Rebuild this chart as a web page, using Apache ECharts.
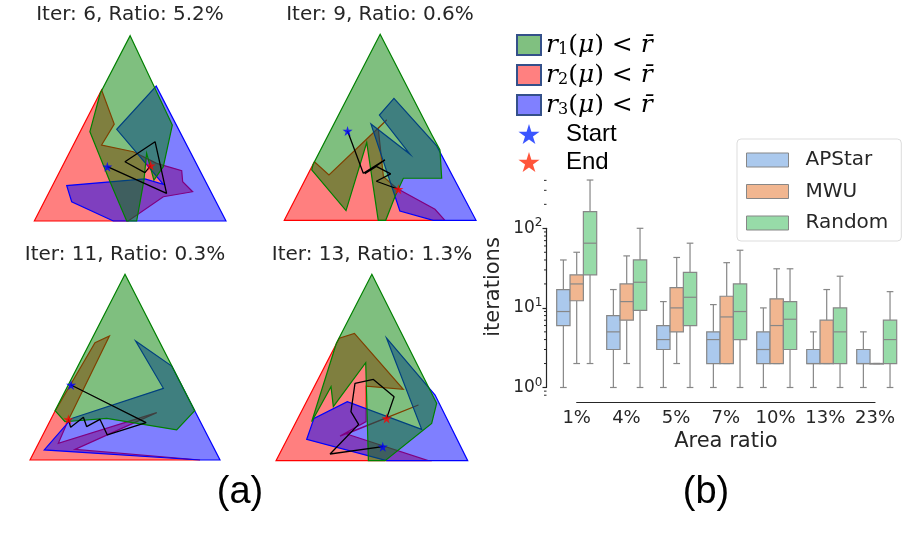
<!DOCTYPE html>
<html lang="en">
<head>
<meta charset="UTF-8"/>
<title>Feasible regions and iterations</title>
<style>
    html, body {
        margin: 0;
        padding: 0;
        width: 906px;
        height: 536px;
        background: #ffffff;
        overflow: hidden;
    }
    #chart {
        width: 906px;
        height: 536px;
    }
</style>
</head>
<body>
<div id="chart"></div>
<script src="https://cdn.jsdelivr.net/npm/echarts@6/dist/echarts.min.js"></script>
<script>
    const chart = echarts.init(document.getElementById('chart'));

    // ---- (a) simplex panels: triangle coords, base 0..1, apex at (0.5, 1)
    const panelTitles = ['Iter: 6, Ratio: 5.2%', 'Iter: 9, Ratio: 0.6%', 'Iter: 11, Ratio: 0.3%', 'Iter: 13, Ratio: 1.3%'];

    const r1Regions = [
        [[0.5, 1], [0.72, 0.518], [0.673, 0.293], [0.624, 0.221], [0.586, 0.365], [0.572, 0.221], [0.534, 0], [0.482, 0], [0.395, 0.212], [0.29, 0.482], [0.344, 0.689]],
        [[0.5, 1], [0.77, 0.459], [0.812, 0.378], [0.821, 0.226], [0.621, 0.226], [0.577, 0.127], [0.529, 0], [0.49, 0], [0.43, 0.418], [0.322, 0.052], [0.143, 0.271], [0.15, 0.3]],
        [[0.5, 1], [0.867, 0.266], [0.772, 0.162], [0.404, 0.224], [0.184, 0.206], [0.132, 0.266]],
        [[0.5, 1], [0.838, 0.308], [0.812, 0.2], [0.569, 0], [0.482, 0], [0.468, 0.526], [0.299, 0.29], [0.287, 0.397], [0.186, 0.209], [0.315, 0.63]]
    ];
    const r2Regions = [
        [[0, 0], [0.351, 0.707], [0.417, 0.523], [0.351, 0.41], [0.517, 0.374], [0.638, 0.311], [0.769, 0.272], [0.774, 0.212], [0.826, 0.158], [0.673, 0.131], [0.49, 0]],
        [[0, 0], [0.157, 0.315], [0.233, 0.244], [0.534, 0.539], [0.49, 0.495], [0.517, 0.235], [0.586, 0.172], [0.786, 0.059], [0.838, 0]],
        [[0, 0], [0.13, 0.26], [0.342, 0.632], [0.418, 0.668], [0.202, 0.215], [0.149, 0.09], [0.667, 0.255], [0.237, 0.057], [0.895, 0]],
        [[0, 0], [0.33, 0.657], [0.409, 0.683], [0.664, 0.383], [0.47, 0.4], [0.47, 0.21], [0.334, 0.132], [0.743, 0.299], [0.369, 0.143], [0.795, 0]]
    ];
    const r3Regions = [
        [[1, 0], [0.636, 0.728], [0.43, 0.495], [0.551, 0.347], [0.673, 0.198], [0.577, 0.227], [0.169, 0.191], [0.195, 0.104], [0.412, 0]],
        [[0.572, 0.656], [0.795, 0.4], [1, 0], [0.777, 0], [0.603, 0.05], [0.452, 0.518], [0.656, 0.355], [0.496, 0.566]],
        [[0.556, 0.641], [0.746, 0.506], [1, 0], [0.895, 0], [0.075, 0.054], [0.219, 0.224], [0.702, 0.386]],
        [[0.577, 0.657], [0.83, 0.352], [1, 0], [0.577, 0], [0.16, 0.114], [0.198, 0.227], [0.372, 0.317], [0.76, 0.168]]
    ];
    // iterate path, first point = Start, last = End
    const paths = [
        [[0.381, 0.293], [0.69, 0.149], [0.63, 0.428], [0.473, 0.32], [0.577, 0.261], [0.607, 0.299]],
        [[0.33, 0.48], [0.412, 0.253], [0.525, 0.325], [0.42, 0.25], [0.48, 0.29], [0.555, 0.25], [0.48, 0.21], [0.595, 0.167]],
        [[0.216, 0.404], [0.611, 0.201], [0.407, 0.135], [0.368, 0.219], [0.298, 0.18], [0.281, 0.23], [0.214, 0.176], [0.202, 0.219]],
        [[0.557, 0.075], [0.282, 0.036], [0.431, 0.195], [0.391, 0.263], [0.412, 0.415], [0.508, 0.436], [0.616, 0.343], [0.577, 0.227]]
    ];

    // ---- (b) box plot: [whisker low, q1, median, q3, whisker high]
    const ratioLabels = ['1%', '4%', '5%', '7%', '10%', '13%', '23%'];
    const apstarBoxes = [
        [1, 6, 9, 17, 40],
        [1, 3, 5, 8, 17],
        [1, 3, 4, 6, 12],
        [1, 2, 4, 5, 11],
        [1, 2, 3, 5, 10],
        [1, 2, 2, 3, 5],
        [1, 2, 2, 3, 5]
    ];
    const mwuBoxes = [
        [2, 12.3, 20, 26, 50],
        [2, 7, 12, 20, 45],
        [2, 5, 10, 18, 43],
        [2, 2, 7.7, 14, 37],
        [2, 2, 6, 13, 31],
        [2, 2, 2, 7, 17],
        [2, 2, 2, 2, 2]
    ];
    const randomBoxes = [
        [2, 26, 65, 162, 404],
        [1, 9.3, 21, 40, 100],
        [1, 6, 13.6, 28, 65],
        [1, 4, 9, 20, 53],
        [1, 3, 7.2, 12, 31],
        [1, 2, 5, 10, 25],
        [1, 2, 4, 7, 16]
    ];
    const minorTickVals = [0.8, 0.9, 2, 3, 4, 5, 6, 7, 8, 9, 20, 30, 40, 50, 60, 70, 80, 90, 200, 300, 400];

    // ---- layout
    const panelBoxes = [
        {left: 34.3, top: 35.7, width: 191.7, height: 185.3},
        {left: 284.3, top: 34.3, width: 191.7, height: 186},
        {left: 30, top: 274.3, width: 190, height: 185.7},
        {left: 276, top: 274.3, width: 191.7, height: 186.4}
    ];
    const titlePos = [[130, 15], [380, 15], [125, 255], [372, 255]];
    const BOX_GRID = {left: 551.7, top: 176, width: 350, height: 222};
    const LOG_MIN = -0.132, LOG_MAX = 2.657;
    const SPINE_X = 546.5;
    const TEXT = '#262626';
    const BOX_LINE = '#878787';
    const STAR = 'path://M50,0 L61,35 L98,35 L68,57 L79,91 L50,70 L21,91 L32,57 L2,35 L39,35 Z';

    function yOf(v) {
        return BOX_GRID.top + BOX_GRID.height * (LOG_MAX - Math.log10(v)) / (LOG_MAX - LOG_MIN);
    }

    const regionStyles = {
        r1: {fill: 'rgba(0,128,0,0.5)', stroke: '#008000', legend: '#80c080'},
        r2: {fill: 'rgba(255,0,0,0.5)', stroke: '#ff0000', legend: '#ff8080'},
        r3: {fill: 'rgba(0,0,255,0.5)', stroke: '#0000ff', legend: '#8080ff'}
    };

    function regionSeries(name, pts, panel) {
        const st = regionStyles[name];
        return {
            name: name,
            type: 'custom',
            xAxisIndex: panel,
            yAxisIndex: panel,
            silent: true,
            itemStyle: {color: st.legend},
            data: pts,
            renderItem: function (params, api) {
                if (params.context.rendered) return;
                params.context.rendered = true;
                const points = pts.map(p => api.coord(p));
                return {
                    type: 'polygon',
                    shape: {points: points},
                    style: {fill: st.fill, stroke: st.stroke, lineWidth: 1.2}
                };
            }
        };
    }

    function boxSeries(name, boxes, slot, fill) {
        return {
            name: name,
            type: 'custom',
            xAxisIndex: 4,
            yAxisIndex: 4,
            silent: true,
            itemStyle: {color: fill, borderColor: BOX_LINE, borderWidth: 1},
            data: boxes.map((b, i) => [i].concat(b)),
            encode: {x: 0, y: [1, 2, 3, 4, 5]},
            renderItem: function (params, api) {
                const band = BOX_GRID.width / ratioLabels.length;
                const w = band * 0.8 / 3;
                const cx = api.coord([api.value(0), 1])[0] + (slot - 1) * w;
                const y = [1, 2, 3, 4, 5].map(d => api.coord([0, api.value(d)])[1]);
                const cap = w * 0.5;
                const line = {stroke: BOX_LINE, lineWidth: 1.2};
                return {
                    type: 'group',
                    children: [
                        {type: 'line', shape: {x1: cx, y1: y[0], x2: cx, y2: y[1]}, style: line},
                        {type: 'line', shape: {x1: cx, y1: y[3], x2: cx, y2: y[4]}, style: line},
                        {type: 'line', shape: {x1: cx - cap / 2, y1: y[0], x2: cx + cap / 2, y2: y[0]}, style: line},
                        {type: 'line', shape: {x1: cx - cap / 2, y1: y[4], x2: cx + cap / 2, y2: y[4]}, style: line},
                        {type: 'rect', shape: {x: cx - w / 2, y: y[3], width: w, height: Math.max(y[1] - y[3], 0.5)},
                            style: {fill: fill, stroke: BOX_LINE, lineWidth: 1.2}},
                        {type: 'line', shape: {x1: cx - w / 2, y1: y[2], x2: cx + w / 2, y2: y[2]}, style: line}
                    ]
                };
            }
        };
    }

    const grids = panelBoxes.map(b => Object.assign({}, b));
    grids.push(BOX_GRID);
    grids.push({left: SPINE_X, width: 1, top: yOf(100), height: yOf(1) - yOf(100)});
    grids.push({left: 576.7, width: 298.3, top: 302, height: 100});

    const xAxes = panelBoxes.map((b, i) => ({type: 'value', gridIndex: i, min: 0, max: 1, show: false}));
    const yAxes = panelBoxes.map((b, i) => ({type: 'value', gridIndex: i, min: 0, max: 1, show: false}));
    xAxes.push({type: 'category', gridIndex: 4, data: ratioLabels, show: false});
    yAxes.push({type: 'log', gridIndex: 4, min: Math.pow(10, LOG_MIN), max: Math.pow(10, LOG_MAX), show: false});
    xAxes.push({type: 'value', gridIndex: 5, show: false});
    yAxes.push({
        type: 'log', gridIndex: 5, logBase: 10, min: 1, max: 100, splitNumber: 2,
        axisLine: {show: true, lineStyle: {color: TEXT, width: 1.2}},
        axisTick: {show: true, length: 4, lineStyle: {color: TEXT, width: 1.2}},
        splitLine: {show: false},
        axisLabel: {
            margin: 4,
            color: TEXT,
            formatter: v => '{b|10}{s|' + Math.round(Math.log10(v)) + '}',
            rich: {
                b: {fontSize: 17, color: TEXT, fontFamily: 'DejaVu Sans'},
                s: {fontSize: 12, color: TEXT, fontFamily: 'DejaVu Sans', padding: [0, 0, 10, 0]}
            }
        }
    });
    xAxes.push({
        type: 'category', gridIndex: 6, data: ratioLabels, boundaryGap: false,
        axisLine: {show: true, lineStyle: {color: TEXT, width: 1.2}},
        axisTick: {show: false},
        axisLabel: {margin: 7, fontSize: 18, color: TEXT, fontFamily: 'DejaVu Sans', interval: 0},
        name: 'Area ratio', nameLocation: 'middle', nameGap: 29,
        nameTextStyle: {fontSize: 21, color: TEXT, fontFamily: 'DejaVu Sans'}
    });
    yAxes.push({type: 'value', gridIndex: 6, show: false});

    const series = [];
    for (let p = 0; p < 4; p++) {
        series.push(regionSeries('r2', r2Regions[p], p));
        series.push(regionSeries('r3', r3Regions[p], p));
        series.push(regionSeries('r1', r1Regions[p], p));
        series.push({
            type: 'line', xAxisIndex: p, yAxisIndex: p, data: paths[p], symbol: 'none', silent: true,
            lineStyle: {color: '#000000', width: 1.3}, z: 3
        });
        series.push({
            name: 'Start', type: 'scatter', xAxisIndex: p, yAxisIndex: p, data: [paths[p][0]],
            symbol: STAR, symbolSize: 10, itemStyle: {color: '#0000ff'}, z: 4, silent: true
        });
        series.push({
            name: 'End', type: 'scatter', xAxisIndex: p, yAxisIndex: p, data: [paths[p][paths[p].length - 1]],
            symbol: STAR, symbolSize: 10, itemStyle: {color: '#ff0000'}, z: 4, silent: true
        });
    }
    series.push(boxSeries('APStar', apstarBoxes, 0, '#abc9ed'));
    series.push(boxSeries('MWU', mwuBoxes, 1, '#f1b690'));
    series.push(boxSeries('Random', randomBoxes, 2, '#97dba8'));
    series.push({
        type: 'custom', xAxisIndex: 4, yAxisIndex: 4, silent: true,
        data: minorTickVals.map(v => [0, v]),
        renderItem: function (params, api) {
            const y = api.coord([0, api.value(1)])[1];
            return {type: 'line', shape: {x1: SPINE_X - 2.5, y1: y, x2: SPINE_X, y2: y}, style: {stroke: TEXT, lineWidth: 1}};
        }
    });

    const rLabel = i => '{it|r}{sub|' + i + '}{up|(}{it|μ}{up|) < }{it|r̄}';
    const legendText = {r1: rLabel(1), r2: rLabel(2), r3: rLabel(3), Start: '{sans|Start}', End: '{sans|End}'};
    const patchBorder = {borderColor: '#34508a', borderWidth: 2};

    const graphics = panelTitles.map((t, i) => ({
        type: 'text', x: titlePos[i][0], y: titlePos[i][1],
        style: {text: t, fontSize: 20, fill: TEXT, fontFamily: 'DejaVu Sans', align: 'center', verticalAlign: 'middle'}
    }));
    graphics.push({
        type: 'text', x: 494, y: 287, rotation: Math.PI / 2,
        style: {text: 'iterations', fontSize: 21, fill: TEXT, fontFamily: 'DejaVu Sans', align: 'center', verticalAlign: 'middle'}
    });
    graphics.push({
        type: 'text', x: 240, y: 493,
        style: {text: '(a)', fontSize: 38, fill: '#000', fontFamily: 'Liberation Sans', align: 'center', verticalAlign: 'middle'}
    });
    graphics.push({
        type: 'text', x: 706, y: 493,
        style: {text: '(b)', fontSize: 38, fill: '#000', fontFamily: 'Liberation Sans', align: 'center', verticalAlign: 'middle'}
    });

    const option = {
        animation: false,
        backgroundColor: '#ffffff',
        textStyle: {fontFamily: 'DejaVu Sans'},
        grid: grids,
        xAxis: xAxes,
        yAxis: yAxes,
        legend: [
            {
                orient: 'vertical', left: 516, top: 32, padding: 0,
                itemWidth: 24, itemHeight: 20, itemGap: 4,
                selectedMode: false,
                data: [
                    {name: 'r1', icon: 'rect', itemStyle: Object.assign({color: regionStyles.r1.legend}, patchBorder)},
                    {name: 'r2', icon: 'rect', itemStyle: Object.assign({color: regionStyles.r2.legend}, patchBorder)},
                    {name: 'r3', icon: 'rect', itemStyle: Object.assign({color: regionStyles.r3.legend}, patchBorder)},
                    {name: 'Start', icon: STAR, itemStyle: {color: '#0a2cff', borderWidth: 0}},
                    {name: 'End', icon: STAR, itemStyle: {color: '#ff2a0a', borderWidth: 0}}
                ],
                formatter: name => legendText[name],
                textStyle: {
                    color: '#000',
                    rich: {
                        it: {fontFamily: 'DejaVu Serif', fontStyle: 'italic', fontSize: 25, lineHeight: 24},
                        sub: {fontFamily: 'DejaVu Serif', fontSize: 16, lineHeight: 24, padding: [10, 0, 0, 0]},
                        up: {fontFamily: 'DejaVu Serif', fontSize: 25, lineHeight: 24},
                        sans: {fontFamily: 'Liberation Sans', fontSize: 24, lineHeight: 24, padding: [0, 0, 0, 20]}
                    }
                }
            },
            {
                orient: 'vertical', left: 737, top: 139,
                padding: [11, 13, 8, 9],
                itemWidth: 42, itemHeight: 14, itemGap: 11.5,
                selectedMode: false,
                backgroundColor: '#ffffff',
                borderColor: '#dddddd', borderWidth: 1, borderRadius: 4,
                data: ['APStar', 'MWU', 'Random'],
                icon: 'rect',
                itemStyle: {borderColor: BOX_LINE, borderWidth: 1},
                textStyle: {fontSize: 20, lineHeight: 20, color: TEXT, fontFamily: 'DejaVu Sans', padding: [0, 0, 0, 12]}
            }
        ],
        graphic: graphics,
        series: series
    };

    chart.setOption(option);
</script>
</body>
</html>
